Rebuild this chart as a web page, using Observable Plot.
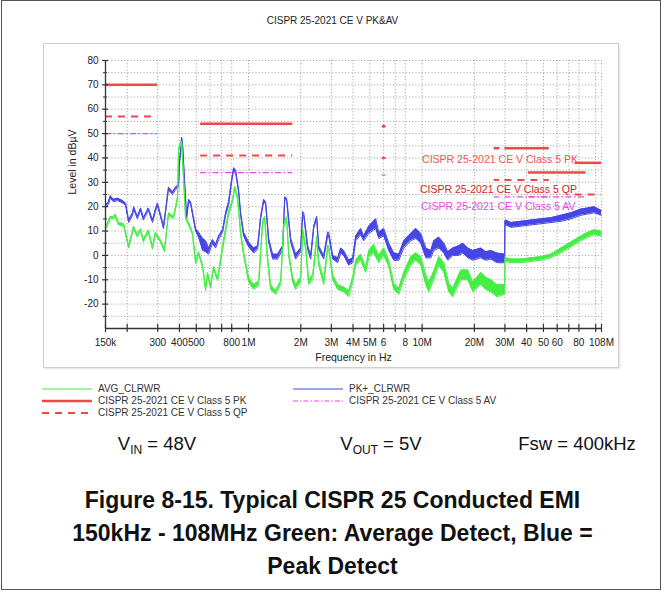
<!DOCTYPE html>
<html><head><meta charset="utf-8">
<script src="https://cdn.jsdelivr.net/npm/d3@7"></script>
<script src="https://cdn.jsdelivr.net/npm/@observablehq/plot@0.6"></script>
<style>
html,body{margin:0;padding:0;background:#fff;}
#page{position:relative;width:665px;height:592px;font-family:"Liberation Sans",Arial,sans-serif;color:#222;overflow:hidden;}
.frame{position:absolute;left:1px;top:0;width:660px;height:590px;border:1.5px solid #555;box-sizing:border-box;}
.panel{position:absolute;left:43px;top:43px;width:576px;height:325px;border:1.5px solid #d0d0d0;box-sizing:border-box;box-shadow:1px 1px 2px #e2e2e2;}
#title{position:absolute;left:0;width:665px;top:15px;text-align:center;font-size:10px;line-height:12px;color:#222;}
#chart{position:absolute;left:0;top:0;}
.leg{position:absolute;font-size:10px;line-height:11px;color:#333;white-space:nowrap;}
.param{position:absolute;top:433px;font-size:18.5px;line-height:22px;color:#111;white-space:nowrap;transform:translateX(-50%);}
.param sub{font-size:12px;vertical-align:-4px;line-height:0;}
#caption{position:absolute;left:0;width:665px;top:484px;text-align:center;font-weight:bold;font-size:23px;line-height:33px;color:#111;}
</style></head>
<body>
<div id="page">
  <div class="frame"></div>
  <div class="panel"></div>
  <div id="title"></div>
  <div id="chart"></div>
  <div id="legend"></div>
  <div id="params"></div>
  <div id="caption"></div>
</div>
<script>
// ---------------- data ----------------
const chartTitle = "CISPR 25-2021 CE V PK&AV";

// PK+ (peak detect, blue): frequency in MHz, lower / upper edge of the trace in dBµV
const pkFreqMHz = [0.150,0.156,0.160,0.167,0.176,0.188,0.196,0.204,0.215,0.218,0.229,0.239,0.248,0.265,0.280,0.291,0.299,0.311,0.324,0.346,0.365,0.380,0.395,0.401,0.412,0.417,0.428,0.440,0.452,0.464,0.496,0.516,0.544,0.566,0.589,0.621,0.646,0.673,0.709,0.738,0.768,0.799,0.821,0.843,0.877,0.901,0.937,1.002,1.071,1.129,1.175,1.223,1.255,1.307,1.378,1.472,1.573,1.616,1.659,1.750,1.870,1.998,2.052,2.080,2.193,2.282,2.374,2.471,2.537,2.712,2.860,2.898,3.057,3.266,3.399,3.537,3.779,3.985,4.147,4.432,4.612,4.929,5.410,5.630,6.016,6.430,6.872,7.343,7.846,8.611,9.204,9.835,10.51,11.23,11.68,12.49,13.35,14.07,15.04,16.29,17.18,18.36,19.62,21.81,23.31,24.92,26.97,29.9,30.0,30.4,32.49,37.11,42.38,48.40,55.26,63.11,72.08,82.3,90.3,97.8,107.3,108];
const pkLow  = [19.5,21,23.5,22,22.5,21.5,20.5,13.5,16.5,19,15,18.5,14.5,18.5,13.5,18,20.5,16,11,27,25,27,28,38,47.5,45,30,15,22,21,10,7.5,2,1.5,0.5,5,3,6.5,9.5,16.5,20.5,30,35,34,26,16.5,8,3.5,1,2.5,15,22,21,5.5,-1.5,-1.5,2.5,23,22.5,5.5,-1.5,1.5,16.5,16.5,2.5,-1.5,11,15,2.5,-1.5,8,8,-1.5,-3,1,0,-4,-3,6,8.5,6,9,11,7,8,2,-2,-2,3,6,7,5,-1,-1,2,3,1,-2,0,0,1,-1,-2,-1,-2,-1.5,-3,-3,12,12.5,11.5,12,12.5,13,13.5,14,15,16.5,17,17.5,16.5,16.5];
const pkHigh = [20.5,22,24.5,23,23.5,22.5,21.5,14.5,17.5,20,16,19.5,15.5,19.5,14.5,19,21.5,17,12,28,26,28,29,39,48.5,46,31,16,23,22,11,9.5,7,6,3,6.5,4.5,8,10.5,17.5,22,31,36,35,27,17.5,9.5,5.5,3,4,16,23,22,7,0.5,0.5,4,24,23.5,7,0.5,3,18,17.5,4,0,12,16,4,0,9.5,9.5,0,-1,3,2,-2,-1,8,11,8,12,15,9.5,11,5,1,0.5,6,9,11,9,3,2,6,7.5,5,1.5,3,4,5,3,2,3,1.5,2,1,0.5,14,14.5,13.5,14,14.5,15,15.5,16.5,17.5,19,19.5,20,18.5,18.5];

// AVG (average detect, green)
const avgFreqMHz = [0.150,0.160,0.167,0.171,0.178,0.191,0.204,0.218,0.229,0.239,0.248,0.265,0.280,0.291,0.311,0.328,0.346,0.370,0.390,0.395,0.412,0.423,0.434,0.452,0.476,0.496,0.516,0.544,0.566,0.581,0.605,0.629,0.664,0.709,0.738,0.768,0.810,0.832,0.866,0.901,0.937,1.002,1.071,1.144,1.206,1.239,1.289,1.341,1.434,1.532,1.594,1.659,1.704,1.797,1.870,1.998,2.052,2.136,2.222,2.344,2.471,2.537,2.712,2.860,2.898,3.057,3.266,3.537,3.779,3.985,4.147,4.432,4.736,4.929,5.268,5.630,6.016,6.430,6.872,7.343,7.846,8.611,9.204,9.835,10.51,10.93,11.68,12.49,13.35,14.26,15.04,16.73,18.36,19.62,21.81,23.31,24.92,26.97,29.9,30.0,30.4,32.49,37.11,42.38,48.40,55.26,63.11,72.08,82.3,90.3,97.8,107.3,108];
const avgLow  = [10.5,15,15,16,12.5,12,3,11,7.5,10,5.5,9.5,2.5,8.5,5.5,1.5,16.5,15,23,43,46,30,15,12.5,8.5,-3.5,0.5,-5,-14.5,-8,-13.5,-5.5,-10.5,2.5,9.5,16.5,22,27.5,23,8.5,0,-11,-14,-12.5,12.5,15,-2.5,-14,-16,-12,11,15,0,-11,-14,-11,9.5,2.5,-12,-10,6,-4,-12,2.5,2.5,-10,-14,-15,-17,-11,-4,-2,-7,-1,1,-3,0,-4.5,-14,-16,-10,-4,-2,-4,-12,-15,-10,-4,-7,-15,-17,-10,-10,-15,-12,-14,-15,-17,-16,-3,-2.5,-3,-3,-2.5,-2,-1,1,3.5,6,7.5,8.5,8,7.5];
const avgHigh = [11.5,16,16,17,13.5,13,4,12,8.5,11,6.5,10.5,3.5,9.5,6.5,2.5,17.5,16,24,44,47,31,16,13.5,9.5,-2.5,1.5,-4,-13,-7,-12.5,-4.5,-9.5,4,11,18,23,28.5,24.5,10,1.5,-9,-12,-10.5,14,16,-1,-12,-14.5,-10.5,12.5,16,1.5,-9,-12,-9,11,4,-10,-8,8,-2,-10,4,4,-8,-12,-13,-14.5,-9,-2,0.5,-5,2,4.5,0,3,-2,-11.5,-13.5,-7,-0.5,1,-0.5,-8,-11,-6.5,-0.5,-3,-11.5,-13.5,-6,-6,-11,-7,-9,-10,-12,-12,-1.5,-1,-1.5,-1.5,-1,-0.5,0.5,3,5.5,8,9.5,10.5,10,9];

// CISPR 25 Class 5 limit segments (MHz, dBµV)
const pkLimitStart = [0.15, 0.53, 5.9, 26, 30, 41, 76];
const pkLimitEnd   = [0.30, 1.8, 6.2, 28, 54, 88, 108];
const pkLimitLevel = [70, 54, 53, 44, 44, 34, 38];
const qpLimitStart = [0.15, 0.53, 5.9, 26, 30, 76];
const qpLimitEnd   = [0.30, 1.8, 6.2, 28, 54, 108];
const qpLimitLevel = [57, 41, 40, 31, 31, 25];
const avLimitStart = [0.15, 0.53, 5.9, 26, 30, 41, 76];
const avLimitEnd   = [0.30, 1.8, 6.2, 28, 54, 88, 108];
const avLimitLevel = [50, 34, 33, 24, 24, 24, 18];
const limitLabels  = ["CISPR 25-2021 CE V Class 5 PK", "CISPR 25-2021 CE V Class 5 QP", "CISPR 25-2021 CE V Class 5 AV"];

// axes
const xTickValues = [0.15,0.2,0.3,0.4,0.5,0.6,0.7,0.8,1,2,3,4,5,6,7,8,10,20,30,40,50,60,70,80,100,108];
const xTickLabels = ["150k","","300","400","500","","","800","1M","2M","3M","4M","5M","6","","8","10M","20M","30M","40","50","60","","80","","108M"];
const yTickValues = [-20,-10,0,10,20,30,40,50,60,70,80];
const yMinorValues = [-25,-15,-5,5,15,25,35,45,55,65,75];
const xAxisTitle = "Frequency in Hz";
const yAxisTitle = "Level in dBµV";

const legendLabels = ["AVG_CLRWR", "CISPR 25-2021 CE V Class 5 PK", "CISPR 25-2021 CE V Class 5 QP", "PK+_CLRWR", "CISPR 25-2021 CE V Class 5 AV"];
const paramsHTML = ["V<sub>IN</sub> = 48V", "V<sub>OUT</sub> = 5V", "Fsw = 400kHz"];
const captionLines = ["Figure 8-15. Typical CISPR 25 Conducted EMI", "150kHz - 108MHz Green: Average Detect, Blue =", "Peak Detect"];

// ---------------- styles ----------------
const BLUE = "#4646e6", GREEN = "#45ee45", RED = "#f04848", MAG = "#e24ae2", QPTEXT = "#d42424";
const FONT = "'Liberation Sans', Arial, sans-serif";

// ---------------- build ----------------
const pk = pkFreqMHz.map((f, i) => ({f, lo: pkLow[i], hi: pkHigh[i]}));
const av = avgFreqMHz.map((f, i) => ({f, lo: avgLow[i], hi: avgHigh[i]}));
const seg = (s, e, l) => s.map((d, i) => ({x1: d, x2: e[i], y: l[i]}));
const labelMap = new Map(xTickValues.map((v, i) => [v, xTickLabels[i]]));
const gridX = xTickValues.slice(1);
const gridY = [...yTickValues, ...yMinorValues];

const chart = Plot.plot({
  width: 665, height: 380,
  marginLeft: 105, marginRight: 64, marginTop: 60, marginBottom: 52,
  x: {type: "log", domain: [0.15, 108], axis: null},
  y: {domain: [-30, 80], axis: null},
  style: {background: "transparent", fontFamily: FONT, fontSize: "10px", color: "#222"},
  marks: [
    Plot.ruleY(gridY, {stroke: "#9a9a9a", strokeDasharray: "1,2.2", strokeWidth: 1}),
    Plot.ruleX(gridX, {stroke: "#9a9a9a", strokeDasharray: "1,2.2", strokeWidth: 1}),
    Plot.ruleY(seg(pkLimitStart, pkLimitEnd, pkLimitLevel), {x1: "x1", x2: "x2", y: "y", stroke: RED, strokeWidth: 2.5}),
    Plot.ruleY(seg(qpLimitStart, qpLimitEnd, qpLimitLevel), {x1: "x1", x2: "x2", y: "y", stroke: RED, strokeWidth: 2, strokeDasharray: "7,6"}),
    Plot.ruleY(seg(avLimitStart, avLimitEnd, avLimitLevel), {x1: "x1", x2: "x2", y: "y", stroke: MAG, strokeWidth: 1.2, strokeDasharray: "6,2.5,1.5,2.5"}),
    Plot.text([limitLabels[0]], {x: 79, y: 39.5, text: d => d, textAnchor: "end", fill: "#f05858", fontSize: 10.5}),
    Plot.text([limitLabels[1]], {x: 78, y: 26.8, text: d => d, textAnchor: "end", fill: QPTEXT, fontSize: 10.5}),
    Plot.text([limitLabels[2]], {x: 76.5, y: 20.2, text: d => d, textAnchor: "end", fill: MAG, fontSize: 10.5}),
    Plot.areaY(pk, {x: "f", y1: "lo", y2: "hi", fill: BLUE}),
    Plot.line(pk, {x: "f", y: "lo", stroke: BLUE, strokeWidth: 1}),
    Plot.line(pk, {x: "f", y: "hi", stroke: BLUE, strokeWidth: 1}),
    Plot.areaY(av, {x: "f", y1: "lo", y2: "hi", fill: GREEN}),
    Plot.line(av, {x: "f", y: "lo", stroke: GREEN, strokeWidth: 1}),
    Plot.line(av, {x: "f", y: "hi", stroke: GREEN, strokeWidth: 1}),
    // axis lines
    Plot.ruleX([0.15], {stroke: "#333", strokeWidth: 1.3}),
    Plot.ruleY([-30], {stroke: "#333", strokeWidth: 1.3}),
    // y ticks (crossing the axis) and labels
    Plot.ruleY(yTickValues, {insetRight: 490, dx: -3, stroke: "#333", strokeWidth: 1.2}),
    Plot.ruleY(yMinorValues, {insetRight: 492, dx: -2, stroke: "#333", strokeWidth: 1}),
    Plot.text(yTickValues, {y: d => d, frameAnchor: "left", dx: -7, textAnchor: "end", text: d => String(d), fill: "#222", fontSize: 10}),
    // x ticks (crossing the axis) and labels
    Plot.ruleX(xTickValues, {insetTop: 260, dy: 4, stroke: "#333", strokeWidth: 1.2}),
    Plot.text(xTickValues, {x: d => d, frameAnchor: "bottom", dy: 17, text: d => labelMap.get(d), fill: "#222", fontSize: 10}),
    // axis titles
    Plot.text([xAxisTitle], {frameAnchor: "bottom", dy: 32, text: d => d, fontSize: 10.5, fill: "#222"}),
    Plot.text([yAxisTitle], {frameAnchor: "left", dx: -33, rotate: -90, text: d => d, fontSize: 10.5, fill: "#222"})
  ]
});
document.getElementById("chart").appendChild(chart);
document.getElementById("title").textContent = chartTitle;

// legend
const legendStyle = [
  {stroke: GREEN, w: 1.2, dash: null},
  {stroke: RED, w: 2.5, dash: null},
  {stroke: RED, w: 2, dash: "7,6"},
  {stroke: BLUE, w: 1.2, dash: null},
  {stroke: MAG, w: 1, dash: "5,2,1.5,2"}
];
const legCol = [0, 0, 0, 1, 1], legRow = [0, 1, 2, 0, 1];
const colX = [42, 293], rowY = [389, 401, 413];
const legend = document.getElementById("legend");
legendLabels.forEach((t, i) => {
  const s = legendStyle[i], x = colX[legCol[i]], y = rowY[legRow[i]];
  const d = document.createElement("div");
  d.className = "leg";
  d.style.left = x + "px"; d.style.top = (y - 6) + "px";
  d.innerHTML = `<svg width="50" height="12" style="position:absolute;left:0;top:0"><line x1="0" x2="50" y1="6" y2="6" stroke="${s.stroke}" stroke-width="${s.w}" ${s.dash ? `stroke-dasharray="${s.dash}"` : ""}/></svg><span style="position:absolute;left:56px;top:0px">${t}</span>`;
  legend.appendChild(d);
});

// params
const paramX = [157, 381, 577];
const params = document.getElementById("params");
paramsHTML.forEach((h, i) => {
  const d = document.createElement("div");
  d.className = "param"; d.style.left = paramX[i] + "px"; d.innerHTML = h;
  params.appendChild(d);
});

// caption
document.getElementById("caption").innerHTML = captionLines.map(l => `<div>${l}</div>`).join("");
</script>
</body></html>
